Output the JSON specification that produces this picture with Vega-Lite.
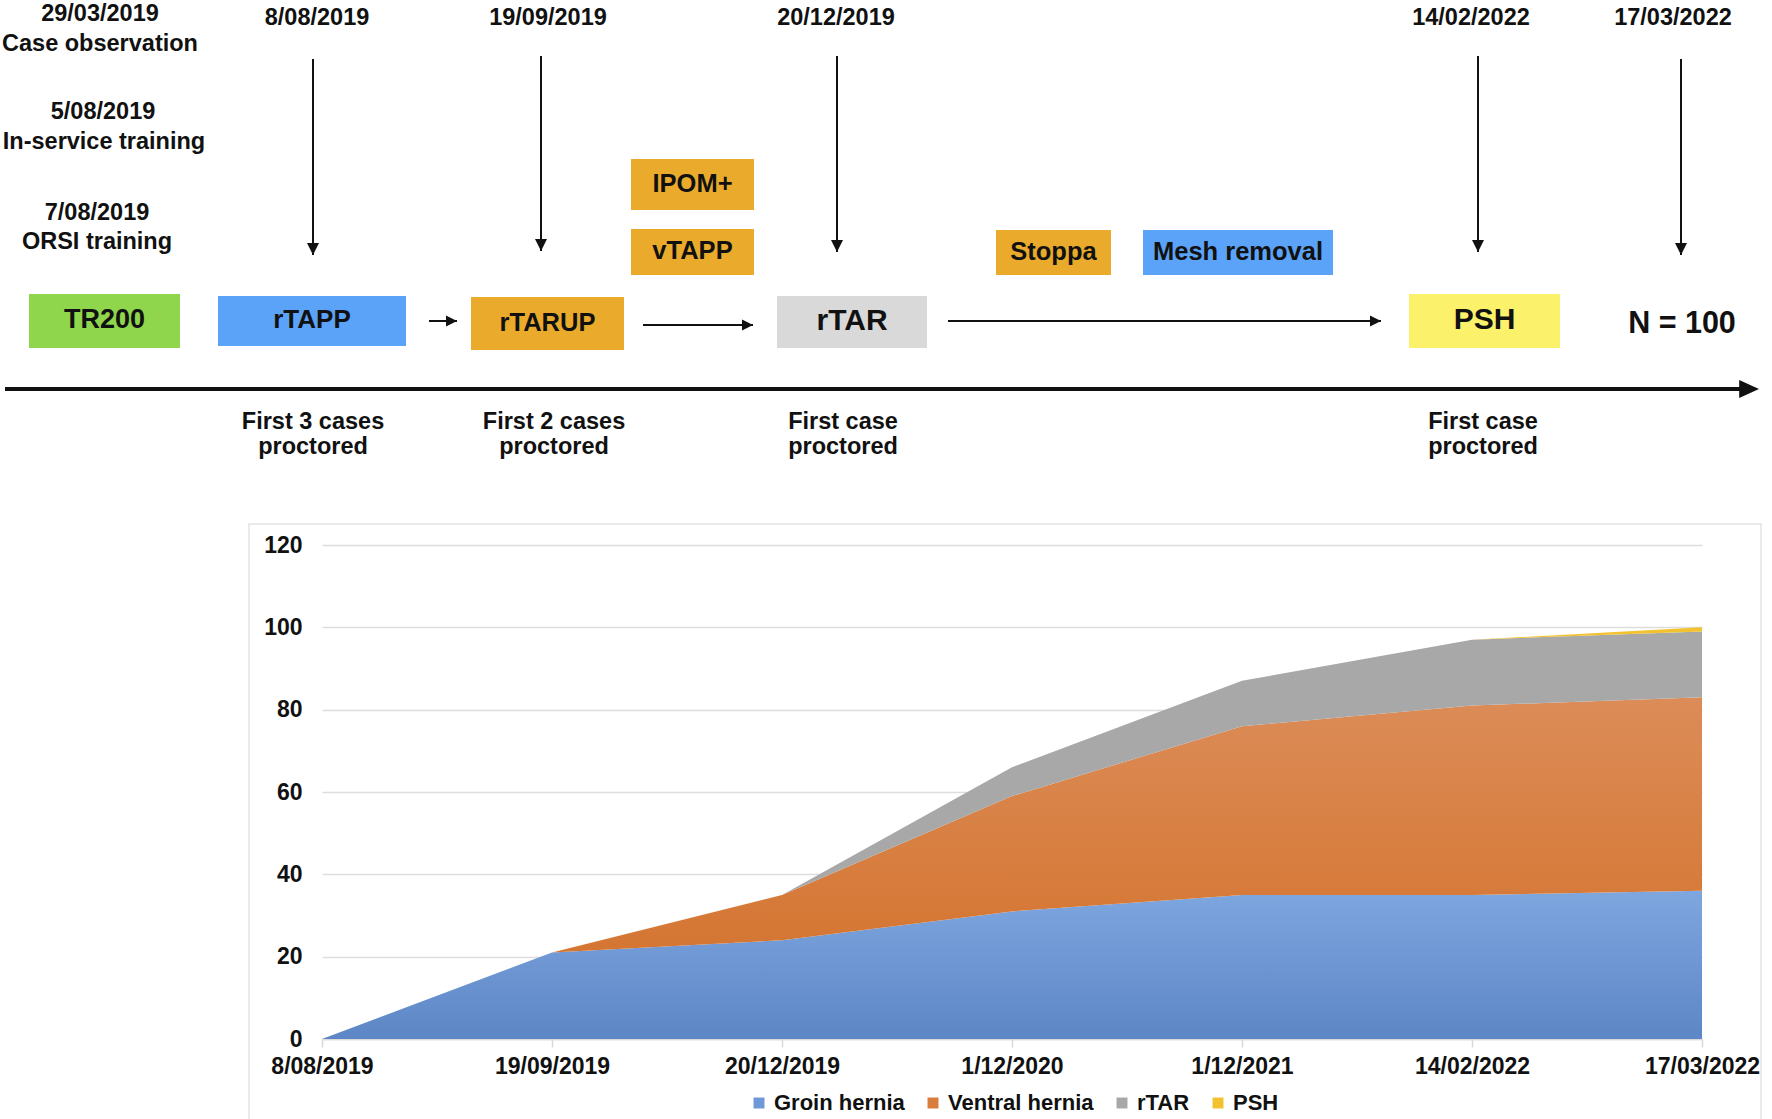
{
  "$schema": "https://vega.github.io/schema/vega-lite/v6.json",
  "width": 1772,
  "height": 1119,
  "autosize": {"type": "none"},
  "padding": 0,
  "background": "#ffffff",
  "config": {"view": {"stroke": null}, "font": "Liberation Sans"},
  "datasets": {
    "cases": [
      {"date": "8/08/2019", "series": "Groin hernia", "ord": 1, "count": 0},
      {"date": "19/09/2019", "series": "Groin hernia", "ord": 1, "count": 21},
      {"date": "20/12/2019", "series": "Groin hernia", "ord": 1, "count": 24},
      {"date": "1/12/2020", "series": "Groin hernia", "ord": 1, "count": 31},
      {"date": "1/12/2021", "series": "Groin hernia", "ord": 1, "count": 35},
      {"date": "14/02/2022", "series": "Groin hernia", "ord": 1, "count": 35},
      {"date": "17/03/2022", "series": "Groin hernia", "ord": 1, "count": 36},
      {"date": "8/08/2019", "series": "Ventral hernia", "ord": 2, "count": 0},
      {"date": "19/09/2019", "series": "Ventral hernia", "ord": 2, "count": 0},
      {"date": "20/12/2019", "series": "Ventral hernia", "ord": 2, "count": 11},
      {"date": "1/12/2020", "series": "Ventral hernia", "ord": 2, "count": 28},
      {"date": "1/12/2021", "series": "Ventral hernia", "ord": 2, "count": 41},
      {"date": "14/02/2022", "series": "Ventral hernia", "ord": 2, "count": 46},
      {"date": "17/03/2022", "series": "Ventral hernia", "ord": 2, "count": 47},
      {"date": "8/08/2019", "series": "rTAR", "ord": 3, "count": 0},
      {"date": "19/09/2019", "series": "rTAR", "ord": 3, "count": 0},
      {"date": "20/12/2019", "series": "rTAR", "ord": 3, "count": 0},
      {"date": "1/12/2020", "series": "rTAR", "ord": 3, "count": 7},
      {"date": "1/12/2021", "series": "rTAR", "ord": 3, "count": 11},
      {"date": "14/02/2022", "series": "rTAR", "ord": 3, "count": 16},
      {"date": "17/03/2022", "series": "rTAR", "ord": 3, "count": 16},
      {"date": "8/08/2019", "series": "PSH", "ord": 4, "count": 0},
      {"date": "19/09/2019", "series": "PSH", "ord": 4, "count": 0},
      {"date": "20/12/2019", "series": "PSH", "ord": 4, "count": 0},
      {"date": "1/12/2020", "series": "PSH", "ord": 4, "count": 0},
      {"date": "1/12/2021", "series": "PSH", "ord": 4, "count": 0},
      {"date": "14/02/2022", "series": "PSH", "ord": 4, "count": 0},
      {"date": "17/03/2022", "series": "PSH", "ord": 4, "count": 1}
    ],
    "boxes": [
      {"label": "TR200", "kind": "system", "x1": 29, "x2": 180, "y1": 294, "y2": 348},
      {"label": "rTAPP", "kind": "blue", "x1": 218, "x2": 406, "y1": 296, "y2": 346},
      {"label": "rTARUP", "kind": "orange", "x1": 471, "x2": 624, "y1": 297, "y2": 350},
      {"label": "IPOM+", "kind": "orange", "x1": 631, "x2": 754, "y1": 159, "y2": 210},
      {"label": "vTAPP", "kind": "orange", "x1": 631, "x2": 754, "y1": 229, "y2": 275},
      {"label": "rTAR", "kind": "rTAR", "x1": 777, "x2": 927, "y1": 296, "y2": 348},
      {"label": "Stoppa", "kind": "orange", "x1": 996, "x2": 1111, "y1": 230, "y2": 275},
      {"label": "Mesh removal", "kind": "blue", "x1": 1143, "x2": 1333, "y1": 230, "y2": 275},
      {"label": "PSH", "kind": "PSH", "x1": 1409, "x2": 1560, "y1": 294, "y2": 348}
    ],
    "texts": [
      {"t": "29/03/2019", "x": 100, "y": 21},
      {"t": "Case observation", "x": 100, "y": 51},
      {"t": "5/08/2019", "x": 103, "y": 119},
      {"t": "In-service training", "x": 104, "y": 149},
      {"t": "7/08/2019", "x": 97, "y": 220},
      {"t": "ORSI training", "x": 97, "y": 249},
      {"t": "8/08/2019", "x": 317, "y": 25},
      {"t": "19/09/2019", "x": 548, "y": 25},
      {"t": "20/12/2019", "x": 836, "y": 25},
      {"t": "14/02/2022", "x": 1471, "y": 25},
      {"t": "17/03/2022", "x": 1673, "y": 25},
      {"t": "First 3 cases", "x": 313, "y": 429},
      {"t": "proctored", "x": 313, "y": 454},
      {"t": "First 2 cases", "x": 554, "y": 429},
      {"t": "proctored", "x": 554, "y": 454},
      {"t": "First case", "x": 843, "y": 429},
      {"t": "proctored", "x": 843, "y": 454},
      {"t": "First case", "x": 1483, "y": 429},
      {"t": "proctored", "x": 1483, "y": 454}
    ],
    "vArrows": [
      {"x": 313, "y1": 59, "y2": 255},
      {"x": 541, "y1": 56, "y2": 251},
      {"x": 837, "y1": 56, "y2": 252},
      {"x": 1478, "y1": 56, "y2": 252},
      {"x": 1681, "y1": 59, "y2": 255}
    ],
    "hArrows": [
      {"x1": 429, "x2": 457, "y": 321},
      {"x1": 643, "x2": 753, "y": 325},
      {"x1": 948, "x2": 1381, "y": 321}
    ],
    "timeline": [{"x1": 5, "x2": 1745, "xh": 1759, "y": 389}],
    "frame": [{"x1": 249, "x2": 1761, "y1": 524, "y2": 1130}]
  },
  "resolve": {
    "scale": {"x": "independent", "y": "independent", "color": "independent", "size": "independent"},
    "axis": {"x": "independent", "y": "independent"},
    "legend": {"color": "independent"}
  },
  "layer": [
    {
      "layer": [
        {
          "data": {"name": "frame"},
          "mark": {"type": "rect", "fill": null, "fillOpacity": 0, "stroke": "#E3E3E3", "strokeWidth": 1.5},
          "encoding": {
            "x": {"field": "x1", "type": "quantitative", "scale": {"domain": [0, 1772], "range": [0, 1772], "nice": false, "zero": false}, "axis": null},
            "x2": {"field": "x2"},
            "y": {"field": "y1", "type": "quantitative", "scale": {"domain": [0, 1119], "range": [0, 1119], "nice": false, "zero": false}, "axis": null},
            "y2": {"field": "y2"}
          }
        },
        {
          "data": {"name": "boxes"},
          "mark": {"type": "rect"},
          "encoding": {
            "x": {"field": "x1", "type": "quantitative", "scale": {"domain": [0, 1772], "range": [0, 1772], "nice": false, "zero": false}, "axis": null},
            "x2": {"field": "x2"},
            "y": {"field": "y1", "type": "quantitative", "scale": {"domain": [0, 1119], "range": [0, 1119], "nice": false, "zero": false}, "axis": null},
            "y2": {"field": "y2"},
            "color": {"field": "kind", "type": "nominal", "legend": null,
              "scale": {"domain": ["system", "blue", "orange", "rTAR", "PSH"], "range": ["#8FD64C", "#5BA3F8", "#EAAB2C", "#D9D9D9", "#FBF16A"]}}
          }
        },
        {
          "data": {"name": "boxes"},
          "transform": [
            {"calculate": "(datum.x1 + datum.x2) / 2", "as": "cx"},
            {"calculate": "(datum.y1 + datum.y2) / 2", "as": "cy"}
          ],
          "mark": {"type": "text", "font": "Liberation Sans", "fontWeight": "bold", "baseline": "middle", "align": "center", "color": "#111111", "dy": -1},
          "encoding": {
            "x": {"field": "cx", "type": "quantitative", "scale": {"domain": [0, 1772], "range": [0, 1772], "nice": false, "zero": false}, "axis": null},
            "y": {"field": "cy", "type": "quantitative", "scale": {"domain": [0, 1119], "range": [0, 1119], "nice": false, "zero": false}, "axis": null},
            "text": {"field": "label"},
            "size": {"condition": [
              {"test": "datum.label === 'rTAR' || datum.label === 'PSH'", "value": 30},
              {"test": "datum.label === 'TR200'", "value": 27},
              {"test": "datum.label === 'rTAPP'", "value": 26}
            ], "value": 25.5}
          }
        },
        {
          "data": {"name": "texts"},
          "mark": {"type": "text", "font": "Liberation Sans", "fontWeight": "bold", "fontSize": 23.5, "baseline": "alphabetic", "align": "center", "color": "#111111"},
          "encoding": {
            "x": {"field": "x", "type": "quantitative", "scale": {"domain": [0, 1772], "range": [0, 1772], "nice": false, "zero": false}, "axis": null},
            "y": {"field": "y", "type": "quantitative", "scale": {"domain": [0, 1119], "range": [0, 1119], "nice": false, "zero": false}, "axis": null},
            "text": {"field": "t"}
          }
        },
        {
          "data": {"values": [{"t": "N = 100", "x": 1682, "y": 333}]},
          "mark": {"type": "text", "font": "Liberation Sans", "fontWeight": "bold", "fontSize": 30.5, "baseline": "alphabetic", "align": "center", "color": "#111111"},
          "encoding": {
            "x": {"field": "x", "type": "quantitative", "scale": {"domain": [0, 1772], "range": [0, 1772], "nice": false, "zero": false}, "axis": null},
            "y": {"field": "y", "type": "quantitative", "scale": {"domain": [0, 1119], "range": [0, 1119], "nice": false, "zero": false}, "axis": null},
            "text": {"field": "t"}
          }
        },
        {
          "data": {"name": "vArrows"},
          "mark": {"type": "rule", "color": "#111111", "strokeWidth": 2},
          "encoding": {
            "x": {"field": "x", "type": "quantitative", "scale": {"domain": [0, 1772], "range": [0, 1772], "nice": false, "zero": false}, "axis": null},
            "y": {"field": "y1", "type": "quantitative", "scale": {"domain": [0, 1119], "range": [0, 1119], "nice": false, "zero": false}, "axis": null},
            "y2": {"field": "y2"}
          }
        },
        {
          "data": {"name": "vArrows"},
          "mark": {"type": "point", "shape": "M-1,-2L1,-2L0,0Z", "size": 144, "filled": true, "color": "#111111", "opacity": 1},
          "encoding": {
            "x": {"field": "x", "type": "quantitative", "scale": {"domain": [0, 1772], "range": [0, 1772], "nice": false, "zero": false}, "axis": null},
            "y": {"field": "y2", "type": "quantitative", "scale": {"domain": [0, 1119], "range": [0, 1119], "nice": false, "zero": false}, "axis": null}
          }
        },
        {
          "data": {"name": "hArrows"},
          "mark": {"type": "rule", "color": "#111111", "strokeWidth": 2},
          "encoding": {
            "x": {"field": "x1", "type": "quantitative", "scale": {"domain": [0, 1772], "range": [0, 1772], "nice": false, "zero": false}, "axis": null},
            "x2": {"field": "x2"},
            "y": {"field": "y", "type": "quantitative", "scale": {"domain": [0, 1119], "range": [0, 1119], "nice": false, "zero": false}, "axis": null}
          }
        },
        {
          "data": {"name": "hArrows"},
          "mark": {"type": "point", "shape": "M-2,-1L-2,1L0,0Z", "size": 121, "filled": true, "color": "#111111", "opacity": 1},
          "encoding": {
            "x": {"field": "x2", "type": "quantitative", "scale": {"domain": [0, 1772], "range": [0, 1772], "nice": false, "zero": false}, "axis": null},
            "y": {"field": "y", "type": "quantitative", "scale": {"domain": [0, 1119], "range": [0, 1119], "nice": false, "zero": false}, "axis": null}
          }
        },
        {
          "data": {"name": "timeline"},
          "mark": {"type": "rule", "color": "#111111", "strokeWidth": 4},
          "encoding": {
            "x": {"field": "x1", "type": "quantitative", "scale": {"domain": [0, 1772], "range": [0, 1772], "nice": false, "zero": false}, "axis": null},
            "x2": {"field": "x2"},
            "y": {"field": "y", "type": "quantitative", "scale": {"domain": [0, 1119], "range": [0, 1119], "nice": false, "zero": false}, "axis": null}
          }
        },
        {
          "data": {"name": "timeline"},
          "mark": {"type": "point", "shape": "M-2.2,-1L-2.2,1L0,0Z", "size": 324, "filled": true, "color": "#111111", "opacity": 1},
          "encoding": {
            "x": {"field": "xh", "type": "quantitative", "scale": {"domain": [0, 1772], "range": [0, 1772], "nice": false, "zero": false}, "axis": null},
            "y": {"field": "y", "type": "quantitative", "scale": {"domain": [0, 1119], "range": [0, 1119], "nice": false, "zero": false}, "axis": null}
          }
        }
      ]
    },
    {
      "data": {"name": "cases"},
      "mark": {"type": "area", "opacity": 1},
      "encoding": {
        "x": {
          "field": "date", "type": "ordinal",
          "sort": ["8/08/2019", "19/09/2019", "20/12/2019", "1/12/2020", "1/12/2021", "14/02/2022", "17/03/2022"],
          "scale": {"type": "point", "padding": 0, "range": [322, 1702]},
          "axis": {"orient": "bottom", "offset": -80, "title": null, "labelAngle": 0, "labelFont": "Liberation Sans", "labelFontWeight": "bold", "labelFontSize": 23, "labelColor": "#111111", "domainColor": "#D9D9D9", "domainWidth": 1.5, "tickColor": "#D9D9D9", "tickWidth": 1.5, "tickSize": 8, "labelPadding": 8, "grid": false}
        },
        "y": {
          "field": "count", "type": "quantitative", "stack": "zero",
          "scale": {"domain": [0, 120], "range": [1039, 545], "nice": false},
          "axis": {"orient": "left", "offset": -322, "title": null, "values": [0, 20, 40, 60, 80, 100, 120], "domain": false, "ticks": false, "labelPadding": 20, "labelFont": "Liberation Sans", "labelFontWeight": "bold", "labelFontSize": 23, "labelColor": "#111111", "grid": true, "gridColor": "#DDDDDD", "gridWidth": 1.5}
        },
        "color": {
          "condition": [
            {"test": "datum.series === 'Groin hernia'", "value": {"gradient": "linear", "x1": 0, "y1": 0, "x2": 0, "y2": 1, "stops": [{"offset": 0, "color": "#7EA6DF"}, {"offset": 1, "color": "#5D86C6"}]}},
            {"test": "datum.series === 'Ventral hernia'", "value": {"gradient": "linear", "x1": 0, "y1": 0, "x2": 0, "y2": 1, "stops": [{"offset": 0, "color": "#DC8C58"}, {"offset": 1, "color": "#D26E25"}]}}
          ],
          "field": "series", "type": "nominal",
          "sort": ["Groin hernia", "Ventral hernia", "rTAR", "PSH"],
          "scale": {"domain": ["Groin hernia", "Ventral hernia", "rTAR", "PSH"], "range": ["#6E98D7", "#D97D3C", "#A8A8A8", "#F2C230"]},
          "legend": {"orient": "none", "legendX": 748, "legendY": 1092, "direction": "horizontal", "title": null, "symbolType": "square", "symbolSize": 120, "symbolStrokeWidth": 0, "labelFont": "Liberation Sans", "labelFontWeight": "bold", "labelFontSize": 22, "labelColor": "#111111", "labelOffset": 4, "columnPadding": 17}
        },
        "order": {"field": "ord", "type": "quantitative"}
      }
    }
  ]
}
